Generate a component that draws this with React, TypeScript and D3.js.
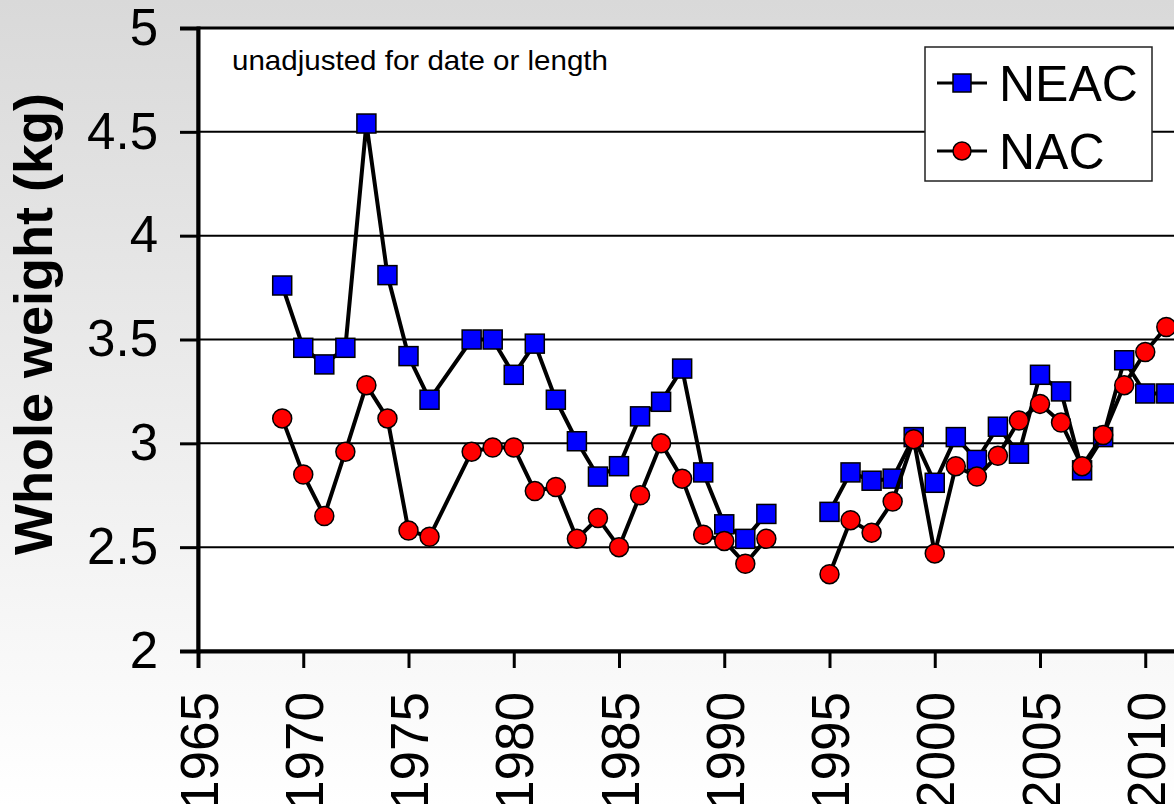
import { useEffect, useRef } from 'react';
import * as d3 from 'd3';

// years shown on the chart (1977 has no sample; 1993-94 are blank and break the line)
const years = [
  1969, 1970, 1971, 1972, 1973, 1974, 1975, 1976, 1978, 1979, 1980, 1981, 1982,
  1983, 1984, 1985, 1986, 1987, 1988, 1989, 1990, 1991, 1992, 1993, 1994, 1995,
  1996, 1997, 1998, 1999, 2000, 2001, 2002, 2003, 2004, 2005, 2006, 2007, 2008,
  2009, 2010, 2011,
];

const neac: (number | null)[] = [
  3.76, 3.46, 3.38, 3.46, 4.54, 3.81, 3.42, 3.21, 3.5, 3.5, 3.33, 3.48, 3.21,
  3.01, 2.84, 2.89, 3.13, 3.2, 3.36, 2.86, 2.61, 2.54, 2.66, null, null, 2.67,
  2.86, 2.82, 2.83, 3.03, 2.81, 3.03, 2.92, 3.08, 2.95, 3.33, 3.25, 2.87, 3.03,
  3.4, 3.24, 3.24,
];

const nac: (number | null)[] = [
  3.12, 2.85, 2.65, 2.96, 3.28, 3.12, 2.58, 2.55, 2.96, 2.98, 2.98, 2.77, 2.79,
  2.54, 2.64, 2.5, 2.75, 3.0, 2.83, 2.56, 2.53, 2.42, 2.54, null, null, 2.37,
  2.63, 2.57, 2.72, 3.02, 2.47, 2.89, 2.84, 2.94, 3.11, 3.19, 3.1, 2.89, 3.04,
  3.28, 3.44, 3.56,
];

const yTicks = [2, 2.5, 3, 3.5, 4, 4.5, 5];
const xTicks = [1965, 1970, 1975, 1980, 1985, 1990, 1995, 2000, 2005, 2010];

const FONT = '"Liberation Sans", Arial, sans-serif';

const Chart = () => {
  const ref = useRef<SVGSVGElement | null>(null);

  useEffect(() => {
    const W = 1174;
    const H = 804;
    const svg = d3.select(ref.current).attr('width', W).attr('height', H);
    svg.selectAll('*').remove();

    const defs = svg.append('defs');
    const grad = defs
      .append('linearGradient')
      .attr('id', 'bg')
      .attr('x1', 0)
      .attr('y1', 0)
      .attr('x2', 0)
      .attr('y2', 1);
    grad.append('stop').attr('offset', '0%').attr('stop-color', '#d9d9d9');
    grad.append('stop').attr('offset', '100%').attr('stop-color', '#ffffff');

    svg.append('rect').attr('width', W).attr('height', H).attr('fill', 'url(#bg)');

    const x = d3.scaleLinear().domain([1965, 2015]).range([198, 1250.5]);
    const y = d3.scaleLinear().domain([2, 5]).range([651, 28]);

    // plot area
    svg
      .append('rect')
      .attr('x', x(1965))
      .attr('y', y(5))
      .attr('width', 1100)
      .attr('height', y(2) - y(5))
      .attr('fill', '#ffffff')
      .attr('stroke', '#000')
      .attr('stroke-width', 3);

    // gridlines
    svg
      .append('g')
      .selectAll('line')
      .data(yTicks.filter(d => d > 2 && d < 5))
      .enter()
      .append('line')
      .attr('x1', x(1965))
      .attr('x2', W)
      .attr('y1', d => y(d))
      .attr('y2', d => y(d))
      .attr('stroke', '#000')
      .attr('stroke-width', 2);

    // y axis
    const yAxis = svg
      .append('g')
      .attr('transform', `translate(${x(1965)},0)`)
      .call(d3.axisLeft(y).tickValues(yTicks).tickSize(18).tickPadding(22).tickFormat(d => `${d}`));
    yAxis.select('.domain').attr('stroke-width', 4).attr('stroke', '#000');
    yAxis.selectAll('.tick line').attr('stroke-width', 3).attr('stroke', '#000');
    yAxis
      .selectAll('.tick text')
      .attr('font-family', FONT)
      .attr('font-size', 51)
      .attr('fill', '#000');

    // x axis
    const xAxis = svg
      .append('g')
      .attr('transform', `translate(0,${y(2)})`)
      .call(d3.axisBottom(x).tickValues(xTicks).tickSize(17).tickFormat(d => `${d}`));
    xAxis.select('.domain').attr('stroke-width', 4).attr('stroke', '#000');
    xAxis.selectAll('.tick line').attr('stroke-width', 3).attr('stroke', '#000');
    xAxis
      .selectAll('.tick text')
      .attr('font-family', FONT)
      .attr('font-size', 53)
      .attr('fill', '#000')
      .attr('text-anchor', 'end')
      .attr('y', 0)
      .attr('dy', '0.36em')
      .attr('transform', 'translate(0,41) rotate(-90)');

    // y title
    svg
      .append('text')
      .attr('transform', `translate(52,324) rotate(-90)`)
      .attr('text-anchor', 'middle')
      .attr('font-family', FONT)
      .attr('font-weight', 'bold')
      .attr('font-size', 54)
      .text('Whole weight (kg)');

    // note
    svg
      .append('text')
      .attr('x', 232)
      .attr('y', 70)
      .attr('font-family', FONT)
      .attr('font-size', 28)
      .attr('textLength', 376)
      .attr('lengthAdjust', 'spacingAndGlyphs')
      .text('unadjusted for date or length');

    const series = [
      { name: 'NEAC', values: neac, color: '#0000ff', shape: 'square' },
      { name: 'NAC', values: nac, color: '#ff0000', shape: 'circle' },
    ];

    const line = d3
      .line<[number, number | null]>()
      .defined(d => d[1] !== null)
      .x(d => x(d[0]))
      .y(d => y(d[1] as number));

    const drawMarker = (g: any, shape: string, color: string, cx: number, cy: number, s: number) => {
      if (shape === 'square') {
        g.append('rect')
          .attr('x', cx - s / 2)
          .attr('y', cy - s / 2)
          .attr('width', s)
          .attr('height', s)
          .attr('fill', color)
          .attr('stroke', '#000')
          .attr('stroke-width', 1.5);
      } else {
        g.append('circle')
          .attr('cx', cx)
          .attr('cy', cy)
          .attr('r', s / 2)
          .attr('fill', color)
          .attr('stroke', '#000')
          .attr('stroke-width', 1.5);
      }
    };

    series.forEach(s => {
      const pts = years.map((yr, i) => [yr, s.values[i]] as [number, number | null]);
      const g = svg.append('g');
      g.append('path')
        .datum(pts)
        .attr('d', line)
        .attr('fill', 'none')
        .attr('stroke', '#000')
        .attr('stroke-width', 4)
        .attr('stroke-linejoin', 'round');
      pts
        .filter(d => d[1] !== null)
        .forEach(d => drawMarker(g, s.shape, s.color, x(d[0]), y(d[1] as number), 19));
    });

    // legend
    const lg = svg.append('g');
    lg.append('rect')
      .attr('x', 925)
      .attr('y', 47)
      .attr('width', 227)
      .attr('height', 134)
      .attr('fill', '#fff')
      .attr('stroke', '#222')
      .attr('stroke-width', 1.5);
    series.forEach((s, i) => {
      const cy = 83 + i * 68;
      lg.append('line')
        .attr('x1', 937)
        .attr('x2', 987)
        .attr('y1', cy)
        .attr('y2', cy)
        .attr('stroke', '#000')
        .attr('stroke-width', 3);
      drawMarker(lg, s.shape, s.color, 962, cy, 18);
      lg.append('text')
        .attr('x', 999)
        .attr('y', cy + 18)
        .attr('font-family', FONT)
        .attr('font-size', 50)
        .text(s.name);
    });
  }, []);

  return <svg ref={ref} style={{ position: 'absolute', left: 0, top: 0, display: 'block' }} />;
};

export default function App() {
  return <Chart />;
}
